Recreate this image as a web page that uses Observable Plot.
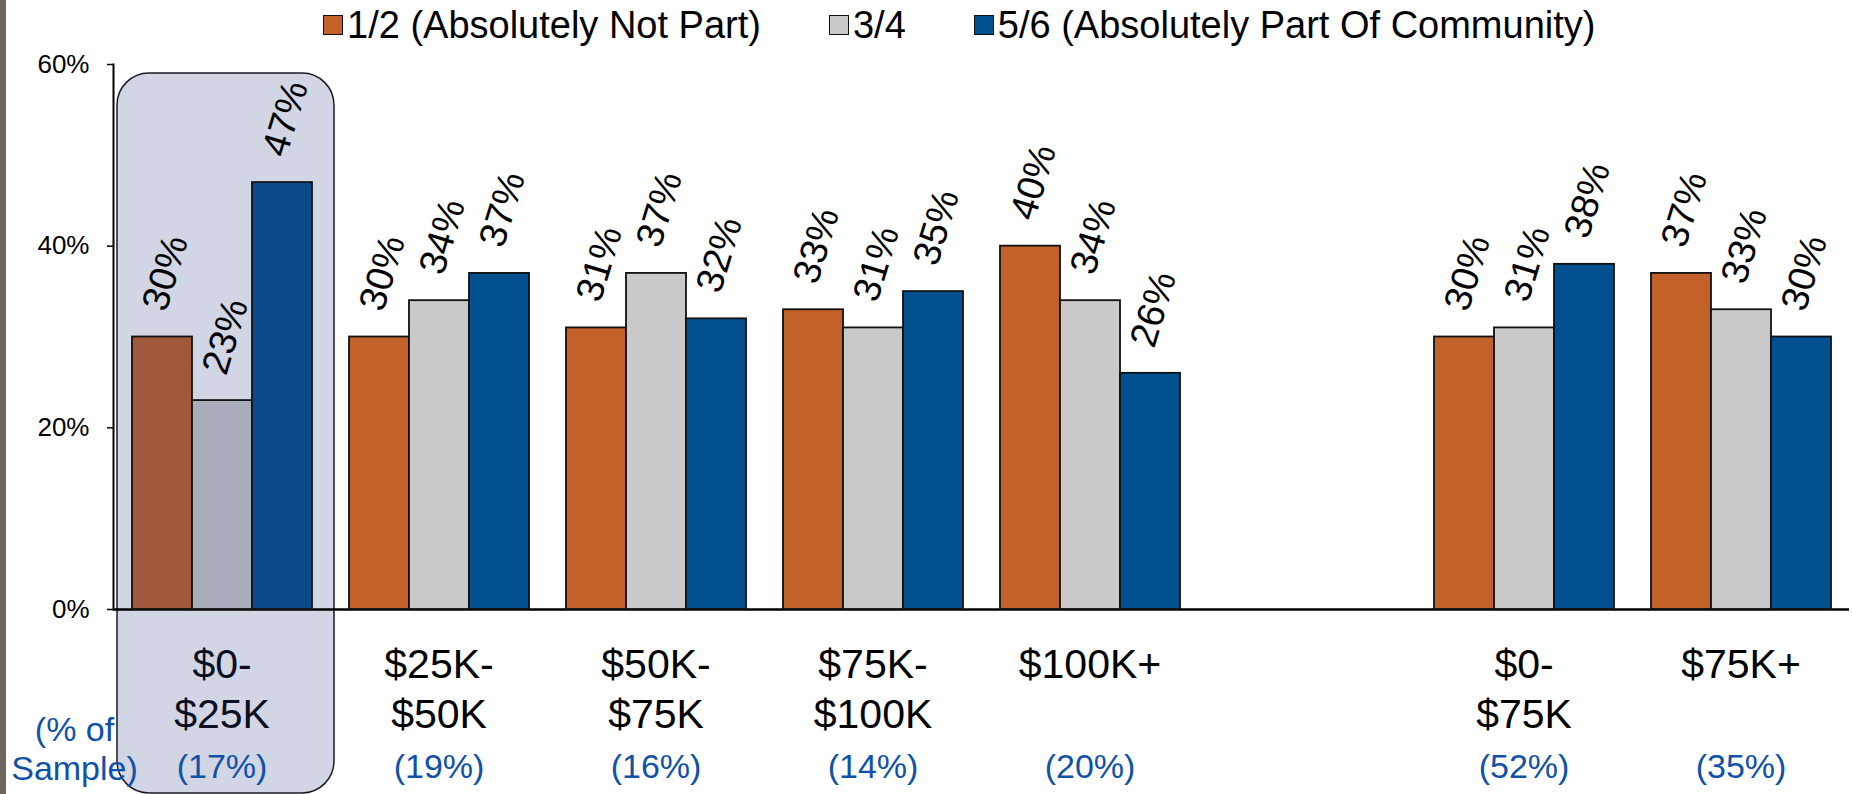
<!DOCTYPE html>
<html>
<head>
<meta charset="utf-8">
<script src="https://cdn.jsdelivr.net/npm/d3@7"></script>
<script src="https://cdn.jsdelivr.net/npm/@observablehq/plot@0.6"></script>
<style>
  html, body { margin: 0; padding: 0; background: #fff; }
  body { width: 1852px; height: 794px; position: relative; overflow: hidden; font-family: "Liberation Sans", Arial, sans-serif; }
  #strip { position: absolute; left: 0; top: 0; width: 6px; height: 794px; background: #6e665c; z-index: 5; }
  #legend { height: 50px; display: flex; align-items: center; padding-left: 323px; box-sizing: border-box; }
  .item { display: flex; align-items: center; margin-right: 68px; font-size: 38px; color: #000; line-height: 1; }
  .sw { width: 18px; height: 18px; border: 1.5px solid #111; margin-right: 4px; flex: none; }
  #chart svg { display: block; }
</style>
</head>
<body>
<div id="strip"></div>
<div id="legend"></div>
<div id="chart"></div>
<script>
// ---- data ----
const groups = ["$0-\n$25K", "$25K-\n$50K", "$50K-\n$75K", "$75K-\n$100K", "$100K+", " ", "$0-\n$75K", "$75K+"];
const samples = ["(17%)", "(19%)", "(16%)", "(14%)", "(20%)", "", "(52%)", "(35%)"];
const series = ["1/2 (Absolutely Not Part)", "3/4", "5/6 (Absolutely Part Of Community)"];
const notPart = [30, 30, 31, 33, 40, null, 30, 37];
const middle = [23, 34, 37, 31, 34, null, 31, 33];
const partOf = [47, 37, 32, 35, 26, null, 38, 30];
const yTicks = [0, 20, 40, 60];
const sampleLabel = "(% of\nSample)";
const highlighted = groups[0];

// ---- styles ----
const colors = ["#C3612A", "#C9C9C9", "#02508F"];
const hiColors = ["#A0593A", "#A9ACBA", "#0C4A8A"];
const font = "Liberation Sans, Arial, sans-serif";

// legend
const legend = document.getElementById("legend");
series.forEach((s, i) => {
  const it = document.createElement("div");
  it.className = "item";
  const sw = document.createElement("span");
  sw.className = "sw";
  sw.style.background = colors[i];
  const tx = document.createElement("span");
  tx.textContent = s;
  it.appendChild(sw); it.appendChild(tx);
  legend.appendChild(it);
});

const valueArrays = [notPart, middle, partOf];
const rows = [];
groups.forEach((g, gi) => {
  series.forEach((s, si) => {
    const v = valueArrays[si][gi];
    if (v != null) rows.push({group: g, series: s, si, value: v});
  });
});
const groupRows = groups.map((g, i) => ({group: g, label: g.trim(), sample: samples[i]}));

const chart = Plot.plot({
  width: 1852,
  height: 744,
  marginLeft: 111,
  marginRight: 2,
  marginTop: 14,
  marginBottom: 185,
  style: {fontFamily: font, background: "transparent"},
  fx: {domain: groups, padding: 0, axis: null},
  x: {domain: series, paddingInner: 0, paddingOuter: 0.3, axis: null},
  y: {domain: [0, 60]},
  marks: [
    Plot.rect([highlighted], {fx: d => d, fill: "#D2D5E4", stroke: "#1a1a24", strokeWidth: 1.5, rx: 32,
      insetLeft: 4, insetRight: -4, insetTop: 9, insetBottom: -184}),
    Plot.ruleY(groupRows, {fx: "group", y: 0, stroke: "#000", strokeWidth: 2.5}),
    Plot.frame({anchor: "left", facetAnchor: "left", stroke: "#000", strokeWidth: 2}),
    Plot.axisY({ticks: yTicks, tickFormat: d => d + "%", tickSize: 6, tickPadding: 18, fontSize: 26, stroke: "#000", strokeWidth: 1.5, label: null, fill: "#000"}),
    Plot.barY(rows, {fx: "group", x: "series", y: "value",
      fill: d => (d.group === highlighted ? hiColors : colors)[d.si], stroke: "#111", strokeWidth: 1.8}),
    Plot.text(rows, {fx: "group", x: "series", y: "value", text: d => d.value + "%",
      rotate: -73, dx: 3, dy: -64, fontSize: 38, textAnchor: "middle", lineAnchor: "middle", fill: "#000"}),
    Plot.text(groupRows, {fx: "group", text: "label", frameAnchor: "bottom", dy: 32, lineAnchor: "top",
      fontSize: 41, lineHeight: 1.24, fill: d => d.group === highlighted ? "#0b0f22" : "#000"}),
    Plot.text(groupRows, {fx: "group", text: "sample", frameAnchor: "bottom", dy: 144, lineAnchor: "top",
      fontSize: 34, fill: "#0F52A8"}),
    Plot.text([sampleLabel], {fx: () => groups[0], text: d => d, frameAnchor: "bottom-left", dx: -39, dy: 104,
      lineAnchor: "top", textAnchor: "middle", fontSize: 34, lineHeight: 1.14, fill: "#0F52A8"})
  ]
});
document.getElementById("chart").appendChild(chart);
</script>
</body>
</html>
